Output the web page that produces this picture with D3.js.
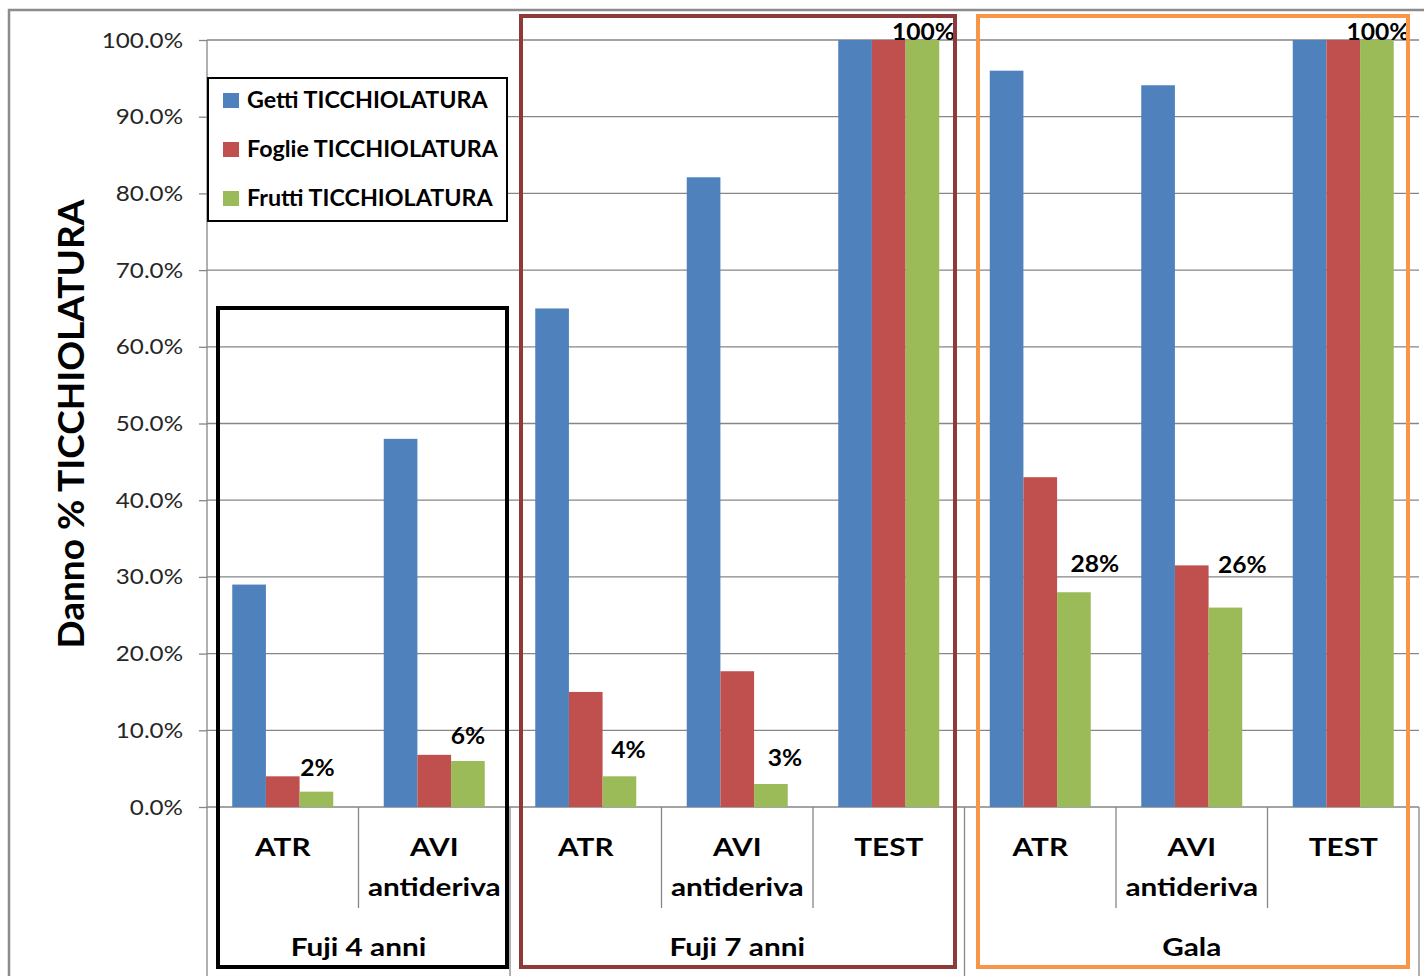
<!DOCTYPE html>
<html>
<head>
<meta charset="utf-8">
<script src="https://cdn.jsdelivr.net/npm/d3@7"></script>
<style>
  html, body { margin: 0; padding: 0; background: #fff; }
  svg { display: block; }
  text { font-family: Lato, "Open Sans", sans-serif; }
</style>
</head>
<body>
<svg id="chart" width="1424" height="976"></svg>
<script>
// ---- data ----
const groups = ["Fuji 4 anni", "Fuji 7 anni", "Gala"];
const categoryGroup = [0, 0, 1, 1, 1, 2, 2, 2];
const categoryLines = [["ATR"], ["AVI", "antideriva"], ["ATR"], ["AVI", "antideriva"], ["TEST"],
                       ["ATR"], ["AVI", "antideriva"], ["TEST"]];
const seriesNames = ["Getti TICCHIOLATURA", "Foglie TICCHIOLATURA", "Frutti TICCHIOLATURA"];
const getti  = [29, 48, 65, 82.1, 100, 96, 94.1, 100];
const foglie = [4, 6.8, 15, 17.7, 100, 43, 31.5, 100];
const frutti = [2, 6, 4, 3, 100, 28, 26, 100];
const yTicks = [0, 10, 20, 30, 40, 50, 60, 70, 80, 90, 100];

// ---- layout ----
const W = 1424, H = 976;
const plot = { left: 207, right: 1419, top: 40, bottom: 807 };
const colors = ["#4f81bd", "#c0504d", "#9bbb59"];
// pixel nudges for the value labels above the "Frutti" bars
const labelNudge = [[0, -16], [-1, -17], [8, -18], [13, -18], [0, 0], [20, -20], [16, -35], [0, 0]];

const svg = d3.select("#chart");
const seriesValues = [getti, foglie, frutti];
const catIdx = d3.range(categoryGroup.length);

// text drawn with a horizontal stretch (wide face)
function wideText(parent, x, y, sx, anchor) {
  return parent.append("g").attr("transform", `translate(${x},${y}) scale(${sx},1)`)
    .append("text").attr("text-anchor", anchor || "middle");
}

const x0 = d3.scaleBand().domain(catIdx).range([plot.left, plot.right]).padding(0);
const bw = x0.bandwidth();
const gap = bw * 1.5 / 4.5;           // Excel-style gap width 150%
const x1 = d3.scaleBand().domain(d3.range(3)).range([gap / 2, bw - gap / 2]).padding(0);
const y = d3.scaleLinear().domain([0, 100]).range([plot.bottom, plot.top]);

// outer chart frame (top and left edges visible)
svg.append("path")
  .attr("d", `M9,${H} L9,10 L${W},10`)
  .attr("fill", "none").attr("stroke", "#8c8c8c").attr("stroke-width", 2.5);

// gridlines
svg.append("g").selectAll("line").data(yTicks.slice(1)).join("line")
  .attr("x1", plot.left).attr("x2", plot.right)
  .attr("y1", d => y(d)).attr("y2", d => y(d))
  .attr("stroke", "#868686").attr("stroke-width", 1.3);

// y axis
const tickSx = 1.1;
const yAxis = d3.axisLeft(y).tickValues(yTicks).tickSize(8).tickPadding(16)
  .tickFormat(d => d3.format(".1f")(d) + "%");
const gy = svg.append("g").attr("transform", `translate(${plot.left},0)`).call(yAxis);
gy.select(".domain").remove();
gy.selectAll(".tick line").attr("stroke", "#868686").attr("stroke-width", 1.3);
gy.selectAll(".tick text")
  .attr("font-size", 22).attr("fill", "#262626")
  .attr("font-family", "Lato, sans-serif")
  .attr("x", -24 / tickSx)
  .attr("transform", `scale(${tickSx},1)`);
svg.append("line").attr("x1", plot.left).attr("x2", plot.left)
  .attr("y1", plot.top).attr("y2", H)
  .attr("stroke", "#868686").attr("stroke-width", 1.3);

// baseline
svg.append("line").attr("x1", plot.left).attr("x2", plot.right)
  .attr("y1", y(0)).attr("y2", y(0))
  .attr("stroke", "#868686").attr("stroke-width", 1.3);

// bars
const gBars = svg.append("g");
seriesValues.forEach((vals, s) => {
  gBars.selectAll(null).data(catIdx).join("rect")
    .attr("x", i => x0(i) + x1(s))
    .attr("width", x1.bandwidth())
    .attr("y", i => y(vals[i]))
    .attr("height", i => y(0) - y(vals[i]))
    .attr("fill", colors[s]);
});

// value labels on the Frutti series
const gVal = svg.append("g");
catIdx.forEach(i => {
  wideText(gVal, x0(i) + x1(2) + x1.bandwidth() / 2 + labelNudge[i][0] + 1,
           y(frutti[i]) + labelNudge[i][1], 1.12)
    .attr("font-size", 22).attr("font-weight", "bold").attr("fill", "#000")
    .text(d3.format(".0f")(frutti[i]) + "%");
});

// category separators (short) and group separators (full height)
const groupStart = groups.map((g, gi) => catIdx.find(i => categoryGroup[i] === gi));
const groupEnd = groups.map((g, gi) => catIdx.filter(i => categoryGroup[i] === gi).slice(-1)[0]);
const sepG = svg.append("g").attr("stroke", "#868686").attr("stroke-width", 1.3);
catIdx.forEach(i => {
  const xr = x0(i) + bw;
  const isGroupEnd = groupEnd.includes(i);
  sepG.append("line").attr("x1", xr).attr("x2", xr)
    .attr("y1", plot.bottom).attr("y2", isGroupEnd ? H : 908);
});

// category labels
const gCat = svg.append("g");
catIdx.forEach(i => {
  const t = wideText(gCat, x0(i) + bw / 2, 856, 1.24)
    .attr("font-size", 24).attr("font-weight", "bold").attr("fill", "#000");
  categoryLines[i].forEach((line, k) => {
    t.append("tspan").attr("x", 0).attr("dy", k === 0 ? 0 : 40).text(line);
  });
});

// group labels
const gGrp = svg.append("g");
groups.forEach((g, gi) => {
  wideText(gGrp, (x0(groupStart[gi]) + x0(groupEnd[gi]) + bw) / 2, 956, 1.24)
    .attr("font-size", 24).attr("font-weight", "bold").attr("fill", "#000")
    .text(g);
});

// highlight frames around each orchard group
const frames = [
  { x: 218, y: 308, w: 289, h: 659, c: "#000000" },
  { x: 521, y: 16, w: 434, h: 951, c: "#8e3a3a" },
  { x: 978, y: 16, w: 430, h: 951, c: "#f79646" }
];
svg.append("g").selectAll("rect").data(frames).join("rect")
  .attr("x", d => d.x).attr("y", d => d.y).attr("width", d => d.w).attr("height", d => d.h)
  .attr("fill", "none").attr("stroke", d => d.c).attr("stroke-width", 4);

// y-axis title
svg.append("text")
  .attr("transform", "translate(84,424) rotate(-90)")
  .attr("text-anchor", "middle")
  .attr("font-size", 37).attr("font-weight", "bold").attr("fill", "#000")
  .text("Danno % TICCHIOLATURA");

// legend
const lg = svg.append("g").attr("transform", "translate(208,78)");
lg.append("rect").attr("width", 299).attr("height", 143)
  .attr("fill", "#fff").attr("stroke", "#000").attr("stroke-width", 2);
seriesNames.forEach((name, s) => {
  const row = lg.append("g").attr("transform", `translate(15,${22 + s * 49})`);
  row.append("rect").attr("x", 0).attr("y", -7).attr("width", 16).attr("height", 15).attr("fill", colors[s]);
  wideText(row, 24, 8, 1.06, "start")
    .attr("font-size", 22).attr("font-weight", "bold").attr("fill", "#000")
    .text(name);
});
</script>
</body>
</html>
